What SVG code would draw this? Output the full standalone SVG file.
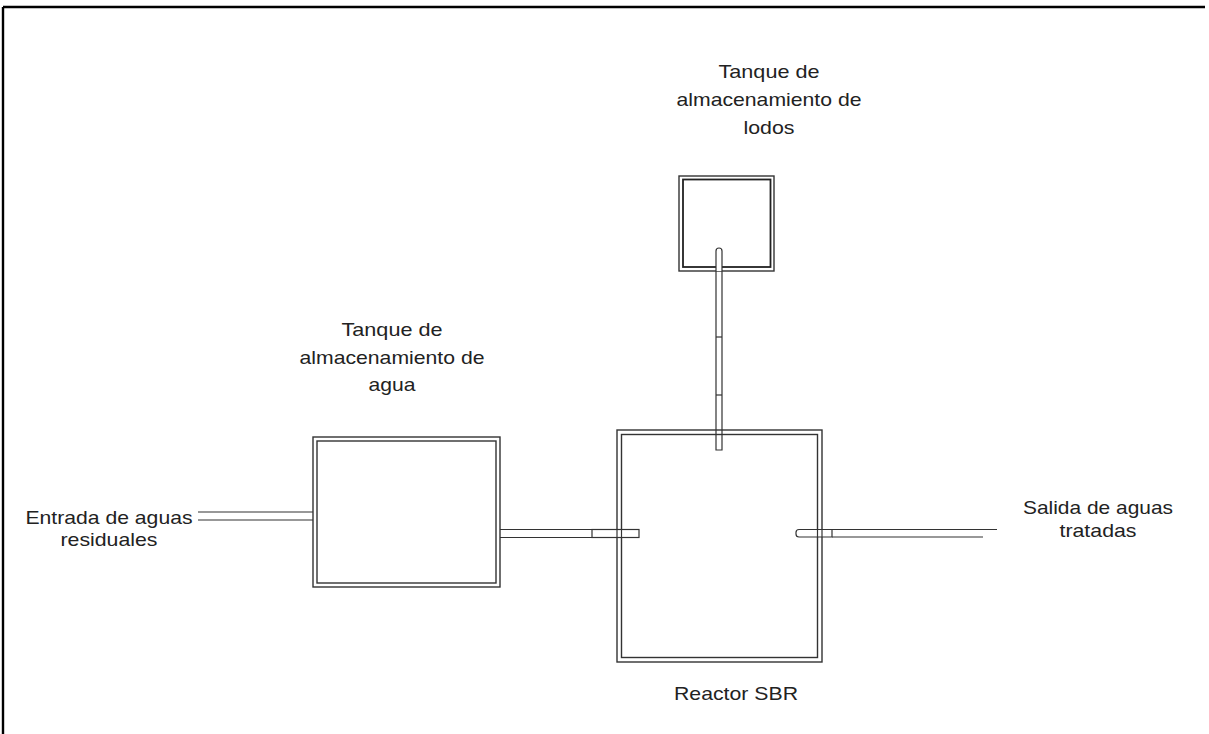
<svg xmlns="http://www.w3.org/2000/svg" width="1209" height="734" viewBox="0 0 1209 734">
<style>
.w{fill:none;stroke:#333;stroke-width:1.4}
.p{fill:#fff;stroke:#333;stroke-width:1.2}
.l{fill:none;stroke:#333;stroke-width:1.2}
text{font-family:"Liberation Sans",Arial,sans-serif;font-size:19px;fill:#222;text-anchor:middle}
</style>
<rect width="1209" height="734" fill="#fff"/>
<g id="frame">
<path d="M3,7 H1205 M3,7 V734" fill="none" stroke="#000" stroke-width="2.4"/>
</g>
<g id="connectors">
<line class="l" x1="198" y1="512" x2="313" y2="512"/>
<line class="l" x1="198" y1="520" x2="313" y2="520"/>
<line class="l" x1="500" y1="529.5" x2="592" y2="529.5"/>
<line class="l" x1="500" y1="537.5" x2="592" y2="537.5"/>
<line class="l" x1="832" y1="529.5" x2="997" y2="529.5"/>
<line class="l" x1="832" y1="537" x2="983" y2="537"/>
<path class="p" d="M716,271 V450 H722 V271"/>
<line class="l" x1="716" y1="337" x2="722" y2="337"/>
<line class="l" x1="716" y1="395" x2="722" y2="395"/>
</g>
<g id="tanque-agua">
<rect class="w" x="313" y="437" width="187" height="150"/>
<rect class="w" x="317" y="441" width="179" height="142"/>
<text x="392" y="336" textLength="101" lengthAdjust="spacingAndGlyphs">Tanque de</text>
<text x="392" y="364" textLength="185" lengthAdjust="spacingAndGlyphs">almacenamiento de</text>
<text x="392" y="391" textLength="47" lengthAdjust="spacingAndGlyphs">agua</text>
</g>
<g id="reactor">
<rect class="w" x="617" y="430" width="205" height="232"/>
<rect class="w" x="621.5" y="434.5" width="196" height="223"/>
<rect class="p" x="592" y="529.5" width="47" height="8"/>
<path class="p" d="M832,529.5 H799 A3,3 0 0 0 796,532.5 V534 A3,3 0 0 0 799,537 H832 Z"/>
<line class="l" x1="617" y1="529.5" x2="617" y2="537.5"/>
<line class="l" x1="621.5" y1="529.5" x2="621.5" y2="537.5"/>
<line class="l" x1="817.5" y1="529.5" x2="817.5" y2="537"/>
<line class="l" x1="822" y1="529.5" x2="822" y2="537"/>
<text x="736" y="700" textLength="124" lengthAdjust="spacingAndGlyphs">Reactor SBR</text>
</g>
<g id="tanque-lodos">
<rect class="w" x="679" y="176" width="95" height="95"/>
<rect x="683" y="179.5" width="87.5" height="87.5" fill="none" stroke="#222" stroke-width="1.8"/>
<path class="p" d="M716,271 V251 A3,3 0 0 1 722,251 V271"/>
<text x="769" y="78" textLength="101" lengthAdjust="spacingAndGlyphs">Tanque de</text>
<text x="769" y="106" textLength="185" lengthAdjust="spacingAndGlyphs">almacenamiento de</text>
<text x="769" y="134" textLength="51" lengthAdjust="spacingAndGlyphs">lodos</text>
</g>
<g id="entrada">
<text x="109" y="524" textLength="167" lengthAdjust="spacingAndGlyphs">Entrada de aguas</text>
<text x="109" y="546" textLength="97" lengthAdjust="spacingAndGlyphs">residuales</text>
</g>
<g id="salida">
<text x="1098" y="514" textLength="150" lengthAdjust="spacingAndGlyphs">Salida de aguas</text>
<text x="1098" y="537" textLength="77" lengthAdjust="spacingAndGlyphs">tratadas</text>
</g>
</svg>
